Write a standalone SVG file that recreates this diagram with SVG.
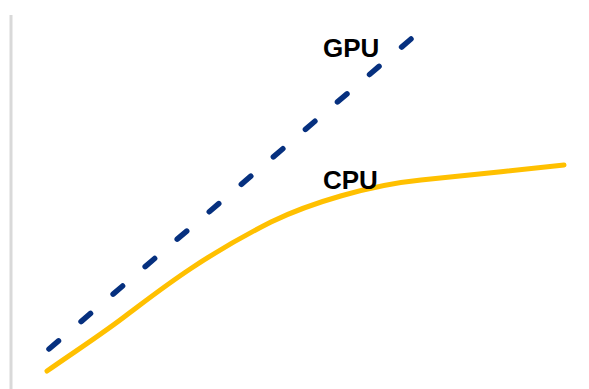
<svg xmlns="http://www.w3.org/2000/svg" width="589" height="389" viewBox="0 0 589 389">
<style>
.lbl{font-family:"Liberation Sans",Arial,sans-serif;font-weight:bold;font-size:26px;fill:#000}
</style>
<rect width="589" height="389" fill="#fff"/>
<g id="axis"><line x1="11" y1="15" x2="11" y2="389" stroke="#d9d9d9" stroke-width="3"/></g>
<g id="connectors">
<path id="gpu-line" d="M49,349 L411,39" fill="none" stroke="#06307f" stroke-width="5.5" stroke-linecap="round" stroke-dasharray="12.5 29.7"/>
<path id="cpu-line" d="M47,371 C80,348 105,332 128,314 C160,290 200,258 271,222 C310,203 370,185 421,180 C460,176 520,170 564,165" fill="none" stroke="#ffc000" stroke-width="5" stroke-linecap="round"/>
</g>
<g id="gpu-label"><text class="lbl" x="323" y="57">GPU</text></g>
<g id="cpu-label"><text class="lbl" x="323" y="189">CPU</text></g>
</svg>
